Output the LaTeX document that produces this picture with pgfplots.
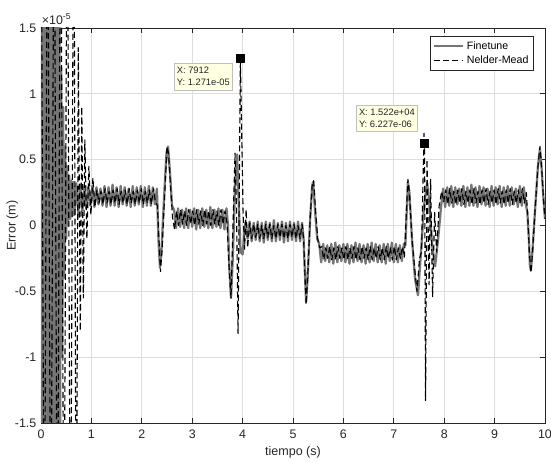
\documentclass[border=0pt]{standalone}
\usepackage{pgfplots}
\pgfplotsset{compat=1.18}
\usepackage{fontspec}
\setmainfont{Liberation Sans}
\definecolor{mlgray}{RGB}{38,38,38}
\definecolor{fgray}{RGB}{118,118,118}
\definecolor{tipbg}{RGB}{255,255,225}
\pgfplotsset{mlline/.style={legend image code/.code={\draw[##1] (0pt,0pt) -- (22pt,0pt);}}}
\begin{document}
\begin{tikzpicture}
\begin{axis}[name=ax, scale only axis, width=378pt, height=296.25pt,
  xmin=0, xmax=10, ymin=-1.5, ymax=1.5,
  xtick={0,1,...,10}, ytick={-1.5,-1,-0.5,0,0.5,1,1.5},
  yticklabels={-1.5,-1,-0.5,0,0.5,1,1.5},
  grid=major, major grid style={draw=black!13, line width=0.5pt},
  tick align=inside, major tick length=3.5pt,
  tick style={mlgray, line width=0.5pt},
  axis line style={mlgray, line width=0.5pt},
  ticklabel style={font=\fontsize{9.3}{10}\selectfont, text=mlgray},
  xticklabel style={yshift=-1.8pt},
  /pgf/number format/assume math mode=true,
  xlabel={tiempo (s)}, ylabel={Error (m)},
  label style={font=\fontsize{9.4}{10}\selectfont, text=mlgray},
  xlabel style={at={(axis description cs:0.5,0)}, anchor=center, yshift=-22pt},
  ylabel style={at={(axis description cs:0,0.5)}, anchor=center, yshift=21.5pt},
  legend style={at={(0.978,0.98)}, anchor=north east, draw=mlgray, line width=0.5pt,
    font=\fontsize{8}{9.5}\selectfont, text=black, inner sep=1.8pt, row sep=-0.5pt},
  legend cell align=left,
  every axis plot/.append style={line join=round},
]
% Finetune
\addplot[fgray, line width=1.7pt, mlline] coordinates {
(0.00,3)(0.02,-3)(0.04,3)(0.06,-3)(0.08,3)(0.10,-3)(0.12,3)(0.14,-3)(0.16,3)(0.18,-3)
(0.20,3)(0.22,-3)(0.24,3)(0.26,-3)(0.28,3)(0.30,-3)(0.32,3)(0.34,-3)(0.36,3)
(0.38,-1.6)(0.40,1.2)(0.42,-1.0)(0.44,0.9)(0.46,-0.4)(0.48,0.6)(0.50,-0.1)(0.52,0.45)(0.54,0.0)(0.56,0.38)(0.58,0.05)
(0.60,0.34)(0.62,0.07)(0.64,0.33)(0.66,0.08)(0.70,0.32)(0.74,0.09)(0.78,0.31)(0.82,0.11)(0.86,0.30)(0.90,0.13)
(0.94,0.29)(0.98,0.15)(1.02,0.30)(1.06,0.14)(1.10,0.29)(1.14,0.16)(1.18,0.28)(1.22,0.15)(1.26,0.30)(1.30,0.14)
(1.34,0.29)(1.38,0.15)(1.42,0.31)(1.46,0.15)(1.50,0.29)(1.54,0.14)(1.58,0.30)(1.62,0.16)(1.66,0.29)(1.70,0.15)
(1.74,0.28)(1.78,0.14)(1.82,0.30)(1.86,0.15)(1.90,0.29)(1.94,0.16)(1.98,0.30)(2.02,0.14)(2.06,0.29)(2.10,0.15)
(2.14,0.30)(2.18,0.15)(2.22,0.29)(2.26,0.16)(2.30,0.28)
(2.33,-0.1)(2.36,-0.32)(2.39,-0.2)(2.44,0.2)(2.49,0.55)(2.52,0.60)(2.56,0.4)(2.60,0.15)(2.64,0.12)
(2.68,-0.02)(2.72,0.13)(2.76,-0.01)(2.80,0.12)(2.84,-0.02)(2.88,0.13)(2.92,-0.02)(2.96,0.12)(3.00,-0.01)(3.04,0.13)
(3.08,-0.03)(3.12,0.12)(3.16,-0.02)(3.20,0.13)(3.24,-0.01)(3.28,0.12)(3.32,-0.02)(3.36,0.14)(3.40,-0.02)(3.44,0.12)
(3.48,-0.01)(3.52,0.13)(3.56,-0.02)(3.60,0.12)(3.64,-0.03)(3.68,0.13)
(3.71,0.0)(3.74,-0.35)(3.77,-0.55)(3.81,-0.2)(3.85,0.3)(3.89,0.54)(3.92,0.2)(3.96,-0.2)(4.00,-0.22)(4.05,0.02)(4.10,-0.1)
(4.14,0.03)(4.18,-0.12)(4.22,0.02)(4.26,-0.11)(4.30,0.03)(4.34,-0.12)(4.38,0.02)(4.42,-0.13)(4.46,0.03)(4.50,-0.11)
(4.54,0.02)(4.58,-0.12)(4.62,0.04)(4.66,-0.12)(4.70,0.02)(4.74,-0.11)(4.78,0.03)(4.82,-0.13)(4.86,0.02)(4.90,-0.12)
(4.94,0.03)(4.98,-0.11)(5.02,0.02)(5.06,-0.12)(5.10,0.03)(5.14,-0.12)(5.18,0.02)
(5.21,-0.1)(5.23,-0.3)(5.26,-0.58)(5.29,-0.4)(5.34,0.05)(5.38,0.3)(5.40,0.33)(5.44,0.1)(5.48,-0.1)(5.52,-0.14)
(5.56,-0.28)(5.60,-0.14)(5.64,-0.27)(5.68,-0.15)(5.72,-0.28)(5.76,-0.14)(5.80,-0.29)(5.84,-0.13)(5.88,-0.28)(5.92,-0.15)
(5.96,-0.27)(6.00,-0.14)(6.04,-0.28)(6.08,-0.14)(6.12,-0.29)(6.16,-0.15)(6.20,-0.28)(6.24,-0.13)(6.28,-0.27)(6.32,-0.14)
(6.36,-0.28)(6.40,-0.15)(6.44,-0.29)(6.48,-0.14)(6.52,-0.28)(6.56,-0.13)(6.60,-0.27)(6.64,-0.14)(6.68,-0.28)(6.72,-0.15)
(6.76,-0.28)(6.80,-0.14)(6.84,-0.29)(6.88,-0.14)(6.92,-0.27)(6.96,-0.13)(7.00,-0.28)(7.04,-0.14)(7.08,-0.28)(7.12,-0.15)
(7.16,-0.27)(7.20,-0.14)
(7.23,-0.15)(7.25,0.05)(7.28,0.33)(7.31,0.25)(7.36,-0.1)(7.42,-0.4)(7.48,-0.53)(7.54,-0.2)(7.60,0.15)(7.66,0.32)
(7.70,0.2)(7.76,-0.15)(7.82,-0.31)(7.88,-0.1)(7.94,0.15)(7.98,0.28)
(8.02,0.14)(8.06,0.29)(8.10,0.15)(8.14,0.30)(8.18,0.14)(8.22,0.29)(8.26,0.16)(8.30,0.28)(8.34,0.15)(8.38,0.30)
(8.42,0.14)(8.46,0.29)(8.50,0.15)(8.54,0.31)(8.58,0.15)(8.62,0.29)(8.66,0.14)(8.70,0.30)(8.74,0.16)(8.78,0.29)
(8.82,0.15)(8.86,0.28)(8.90,0.14)(8.94,0.30)(8.98,0.15)(9.02,0.29)(9.06,0.16)(9.10,0.30)(9.14,0.14)(9.18,0.29)
(9.22,0.15)(9.26,0.30)(9.30,0.15)(9.34,0.29)(9.38,0.16)(9.42,0.28)(9.46,0.14)(9.50,0.30)(9.54,0.15)(9.58,0.29)(9.62,0.16)
(9.65,0.1)(9.68,-0.1)(9.70,-0.3)(9.72,-0.34)(9.75,-0.2)(9.80,0.1)(9.86,0.45)(9.90,0.58)(9.93,0.45)(9.97,0.2)(10.0,0.05)
};
\addlegendentry{Finetune}
% Nelder-Mead
\addplot[black, line width=0.85pt, dash pattern=on 4.5pt off 2.5pt, mlline] coordinates {
(0.000,3)(0.065,-3)(0.130,3)(0.195,-3)(0.260,3)(0.325,-3)(0.390,3)(0.455,-3)(0.520,3)(0.585,-3)(0.650,3)(0.700,-3)
(0.74,1.35)(0.78,-0.8)(0.81,0.9)(0.84,-0.55)(0.87,0.65)(0.91,-0.1)(0.95,0.45)(0.99,0.08)(1.03,0.36)(1.07,0.14)
(1.11,0.27)(1.15,0.17)(1.19,0.26)(1.23,0.16)(1.27,0.28)(1.31,0.17)(1.35,0.26)(1.39,0.16)(1.43,0.27)(1.47,0.17)
(1.51,0.28)(1.55,0.16)(1.59,0.26)(1.63,0.17)(1.67,0.27)(1.71,0.16)(1.75,0.28)(1.79,0.17)(1.83,0.26)(1.87,0.16)
(1.91,0.27)(1.95,0.17)(1.99,0.28)(2.03,0.16)(2.07,0.26)(2.11,0.17)(2.15,0.27)(2.19,0.16)(2.23,0.28)(2.27,0.18)
(2.31,0.15)(2.34,-0.1)(2.37,-0.35)(2.40,-0.2)(2.45,0.2)(2.50,0.6)(2.53,0.55)(2.57,0.3)(2.61,0.06)(2.65,-0.03)
(2.69,0.11)(2.73,0.0)(2.77,0.12)(2.81,0.01)(2.85,0.11)(2.89,0.0)(2.93,0.12)(2.97,0.01)(3.01,0.11)(3.05,0.0)
(3.09,0.12)(3.13,0.01)(3.17,0.11)(3.21,0.0)(3.25,0.12)(3.29,0.01)(3.33,0.11)(3.37,0.0)(3.41,0.12)(3.45,0.01)
(3.49,0.11)(3.53,0.0)(3.57,0.12)(3.61,0.01)(3.65,0.11)(3.69,0.02)
(3.73,-0.3)(3.77,-0.55)(3.81,0.0)(3.85,0.55)(3.88,0.1)(3.91,-0.82)(3.956,1.271)(4.01,0.1)(4.04,-0.18)(4.07,0.12)(4.10,-0.17)(4.14,0.02)
(4.18,-0.10)(4.22,0.01)(4.26,-0.09)(4.30,0.01)(4.34,-0.10)(4.38,0.0)(4.42,-0.10)(4.46,0.01)(4.50,-0.09)(4.54,0.01)
(4.58,-0.10)(4.62,0.0)(4.66,-0.10)(4.70,0.01)(4.74,-0.09)(4.78,0.01)(4.82,-0.10)(4.86,0.0)(4.90,-0.10)(4.94,0.01)
(4.98,-0.09)(5.02,0.01)(5.06,-0.10)(5.10,0.0)(5.14,-0.10)(5.18,0.01)
(5.21,-0.1)(5.23,-0.3)(5.26,-0.6)(5.29,-0.4)(5.34,0.05)(5.38,0.3)(5.41,0.34)(5.45,0.1)(5.49,-0.1)(5.53,-0.17)
(5.57,-0.16)(5.61,-0.26)(5.65,-0.17)(5.69,-0.25)(5.73,-0.16)(5.77,-0.26)(5.81,-0.17)(5.85,-0.26)(5.89,-0.16)(5.93,-0.25)
(5.97,-0.17)(6.01,-0.26)(6.05,-0.16)(6.09,-0.26)(6.13,-0.17)(6.17,-0.25)(6.21,-0.16)(6.25,-0.26)(6.29,-0.17)(6.33,-0.26)
(6.37,-0.16)(6.41,-0.25)(6.45,-0.17)(6.49,-0.26)(6.53,-0.16)(6.57,-0.26)(6.61,-0.17)(6.65,-0.25)(6.69,-0.16)(6.73,-0.26)
(6.77,-0.17)(6.81,-0.26)(6.85,-0.16)(6.89,-0.25)(6.93,-0.17)(6.97,-0.26)(7.01,-0.16)(7.05,-0.26)(7.09,-0.17)(7.13,-0.25)
(7.17,-0.16)(7.21,-0.24)
(7.25,0.1)(7.28,0.35)(7.31,0.25)(7.36,-0.1)(7.42,-0.35)(7.46,-0.5)(7.51,-0.25)(7.55,-0.2)(7.60,0.70)(7.61,0.6227)(7.63,-1.33)
(7.66,0.5)(7.70,-0.45)(7.73,0.35)(7.77,-0.54)(7.81,0.1)(7.85,-0.2)(7.90,0.15)(7.95,0.26)(7.99,0.18)
(8.03,0.27)(8.07,0.16)(8.11,0.28)(8.15,0.17)(8.19,0.26)(8.23,0.16)(8.27,0.27)(8.31,0.17)(8.35,0.28)(8.39,0.16)
(8.43,0.26)(8.47,0.17)(8.51,0.27)(8.55,0.16)(8.59,0.28)(8.63,0.17)(8.67,0.26)(8.71,0.16)(8.75,0.27)(8.79,0.17)
(8.83,0.28)(8.87,0.16)(8.91,0.26)(8.95,0.17)(8.99,0.27)(9.03,0.16)(9.07,0.28)(9.11,0.17)(9.15,0.26)(9.19,0.16)
(9.23,0.27)(9.27,0.17)(9.31,0.28)(9.35,0.16)(9.39,0.26)(9.43,0.17)(9.47,0.27)(9.51,0.16)(9.55,0.28)(9.59,0.17)(9.63,0.25)
(9.66,0.05)(9.69,-0.2)(9.72,-0.36)(9.75,-0.22)(9.80,0.1)(9.86,0.45)(9.90,0.6)(9.94,0.4)(9.97,0.2)(10.0,0.05)
};
\addlegendentry{Nelder-Mead}
% data tips
\addplot[only marks, mark=square*, mark size=3pt, black, forget plot] coordinates {(3.956,1.271)(7.61,0.6227)};
\node[anchor=north east, fill=tipbg, draw=black!25, line width=0.4pt, align=left, inner xsep=2.2pt, inner ysep=3pt,
  font=\fontsize{7}{9}\selectfont, text=black!85] at (axis cs:3.81,1.234) {X: 7912\\Y: 1.271e-05};
\node[anchor=south east, fill=tipbg, draw=black!25, line width=0.4pt, align=left, inner xsep=2.2pt, inner ysep=3pt,
  font=\fontsize{7}{9}\selectfont, text=black!85] at (axis cs:7.48,0.71) {X: 1.522e+04\\Y: 6.227e-06};
\end{axis}
\node[anchor=south west, inner sep=0pt, font=\fontsize{9.3}{10}\selectfont, text=mlgray] at ([yshift=2.5pt, xshift=0.5pt]ax.north west) {×10\textsuperscript{-5}};
\pgfresetboundingbox
\path ([xshift=-30.75pt,yshift=-30pt]ax.south west) rectangle ([xshift=4.5pt,yshift=21pt]ax.north east);
\end{tikzpicture}
\end{document}
